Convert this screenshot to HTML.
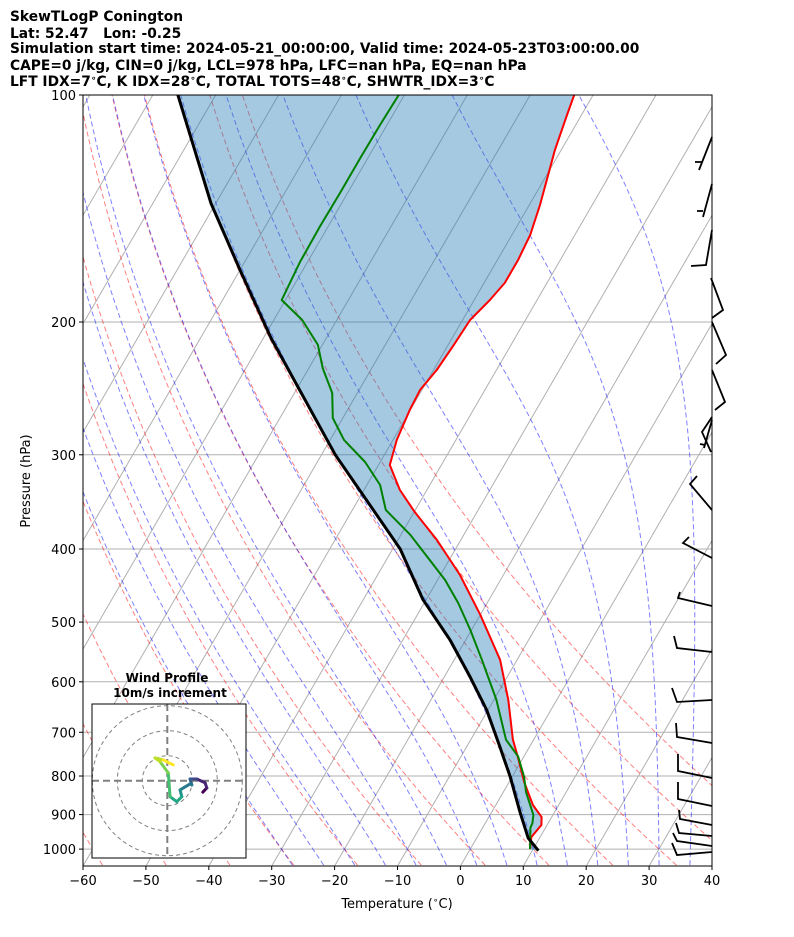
<!DOCTYPE html>
<html><head><meta charset="utf-8">
<style>
html,body{margin:0;padding:0;background:#fff;}
svg{display:block;font-family:"DejaVu Sans","Liberation Sans",sans-serif;}
</style></head>
<body>
<svg id="chart" width="794" height="937" viewBox="0 0 794 937" xmlns="http://www.w3.org/2000/svg">
<defs><clipPath id="plotclip"><rect x="83" y="95" width="629" height="771"/></clipPath>
<clipPath id="hodoclip"><rect x="92" y="704" width="154" height="154"/></clipPath></defs>
<g font-weight="bold" font-size="13.8" fill="#000" style="white-space:pre">
<text x="10" y="21">SkewTLogP Conington</text>
<text x="10" y="38" xml:space="preserve">Lat: 52.47   Lon: -0.25</text>
<text x="10" y="53">Simulation start time: 2024-05-21_00:00:00, Valid time: 2024-05-23T03:00:00.00</text>
<text x="10" y="70">CAPE=0 j/kg, CIN=0 j/kg, LCL=978 hPa, LFC=nan hPa, EQ=nan hPa</text>
<text x="10" y="86">LFT IDX=7<tspan font-size="9" dy="-5">∘</tspan><tspan dy="5">C, K IDX=28</tspan><tspan font-size="9" dy="-5">∘</tspan><tspan dy="5">C, TOTAL TOTS=48</tspan><tspan font-size="9" dy="-5">∘</tspan><tspan dy="5">C, SHWTR_IDX=3</tspan><tspan font-size="9" dy="-5">∘</tspan><tspan dy="5">C</tspan></text>
</g>
<g id="plot" clip-path="url(#plotclip)"></g>
<g id="barbs" stroke="#000" stroke-width="1.8" fill="none"></g>
<rect x="83" y="95" width="629" height="771" fill="none" stroke="#000" stroke-width="1"/>
<g id="axes"></g>
<text x="397" y="908" font-size="13" text-anchor="middle">Temperature (<tspan font-size="9" dy="-5">∘</tspan><tspan dy="5">C)</tspan></text>
<text transform="translate(30,481) rotate(-90)" font-size="13" text-anchor="middle">Pressure (hPa)</text>
<g id="hodo"></g>
</svg>
<script>
// ---- data ----
const tempP = [100,106.3,118.3,139.9,153.3,165.5,177.5,187,198.8,214.5,231.6,246.1,261.7,286.7,309.5,334,357.3,389,433,489,561,634,716,755,815,874,907,929,964,1000];
const tempT = [-53.0,-52.3,-51.0,-48.3,-47.1,-46.7,-46.7,-47.5,-48.8,-49.1,-49.5,-50.3,-50.1,-49.4,-48.2,-44.3,-39.9,-33.8,-26.9,-20.0,-12.7,-7.7,-3.3,-0.9,2.4,5.9,8.4,9.1,8.6,9.5];
const dewP = [100,109.6,121.2,134.9,149.2,166.5,187,198.8,214.5,230.2,248.4,268.1,286.7,306.7,329,355,383,413.7,439.7,471.7,512,561,634,716,754,802,840,901,924,937,1000];
const dewT = [-80.9,-81.1,-81.2,-81.2,-81.3,-81.2,-80.6,-75.5,-70.7,-67.8,-64.0,-61.6,-57.8,-52.4,-47.9,-44.7,-38.5,-33.1,-28.8,-24.6,-20.2,-15.6,-9.6,-4.4,-0.9,1.9,3.6,6.9,7.5,7.6,9.5];
const parcelP = [1005,967,895,802,732,654,591,528,467,400,300,210,170.6,139.1,100];
const parcelT = [11.0,8.2,4.6,-0.3,-4.7,-10.2,-15.9,-22.5,-30.5,-38.8,-57.8,-78.8,-90.0,-100.8,-116.0];
const xTicks = [-60,-50,-40,-30,-20,-10,0,10,20,30,40];
const yTicks = [100,200,300,400,500,600,700,800,900,1000];
const hodoU = [14.2,15.8,15.1,11.8,9.1,9.8,9.1,5.1,5.8,3.8,1.1,0.4,-2.9,-4.9,-1.6,2.4];
const hodoV = [-4.6,-2.9,-0.8,0.7,0.7,-1.7,-1.3,-3.7,-6.4,-8.4,-6.4,3.1,7.6,9.1,8.3,6.3];

// ---- axes ----
const X0=83,X1=712,Y0=95,Y1=866,PX=6.29,SK=0.58,LB=327.5;
function yP(p){return Y0+LB*Math.log(p/100);}
function xT(t,p){return X0+(t+60)*PX+SK*(Y1-yP(p));}
const NS="http://www.w3.org/2000/svg";
function mk(tag,attrs,parent){const e=document.createElementNS(NS,tag);for(const k in attrs)e.setAttribute(k,attrs[k]);parent.appendChild(e);return e;}
const plot=document.getElementById('plot');
const axes=document.getElementById('axes');
function pathFrom(ps,ts){return ps.map((p,i)=>(i?'L':'M')+xT(ts[i],p).toFixed(1)+','+yP(p).toFixed(1)).join('');}

// isotherms
const gIso=mk('g',{},plot);


for(let t=-180;t<=50;t+=10){
  mk('line',{x1:xT(t,1050),y1:yP(1050),x2:xT(t,100),y2:yP(100),stroke:'#b0b0b0','stroke-width':1},gIso);
}
// pressure grid
const gGrid=mk('g',{},plot);


yTicks.forEach(p=>{mk('line',{x1:X0,x2:X1,y1:yP(p),y2:yP(p),stroke:'#b0b0b0','stroke-width':1},gGrid);});

// dry adiabats
const gDry=mk('g',{},plot);


for(let th=213.15;th<=323.2;th+=10){
  let d='';
  for(let p=1050;p>=99;p-=10){const t=th*Math.pow(p/1000,0.2857)-273.15;d+=(d?'L':'M')+xT(t,p).toFixed(1)+','+yP(p).toFixed(1);}
  mk('path',{d:d,fill:'none',stroke:'rgba(255,0,0,0.5)','stroke-width':1,'stroke-dasharray':'5,3'},gDry);
}
// moist adiabats
function es(tc){return 6.112*Math.exp(17.67*tc/(tc+243.5));}
function dTdp(T,p){const tc=T-273.15;const e=es(tc);const rs=0.622*e/(p-e);const Rd=287,Cp=1005,Lv=2.501e6;
  return (Rd*T+Lv*rs)/(p*(Cp+Lv*Lv*rs*0.622/(Rd*T*T)));}
const gMoist=mk('g',{},plot);


for(let t0=-30;t0<=45;t0+=5){
  const pts=[];let T=t0+273.15;
  let Td=T;const down=[];
  for(let p=1000;p<1050;p+=5){const k=dTdp(Td,p);Td+=k*5;down.push([p+5,Td]);}
  down.reverse().forEach(a=>pts.push(a));
  pts.push([1000,T]);
  for(let p=1000;p>100;p-=5){const k1=dTdp(T,p);const k2=dTdp(T-k1*2.5,p-2.5);T-=k2*5;pts.push([p-5,T]);}
  let d='';pts.forEach(a=>{d+=(d?'L':'M')+xT(a[1]-273.15,a[0]).toFixed(1)+','+yP(a[0]).toFixed(1);});
  mk('path',{d:d,fill:'none',stroke:'rgba(0,0,255,0.5)','stroke-width':1,'stroke-dasharray':'5,3'},gMoist);
}
// fill between temperature and parcel
let fd=pathFrom(tempP,tempT);
for(let i=0;i<parcelP.length;i++){fd+='L'+xT(parcelT[i],parcelP[i]).toFixed(1)+','+yP(parcelP[i]).toFixed(1);}
const fill=mk('path',{d:fd+'Z',fill:'rgba(31,119,180,0.4)',stroke:'none'},plot);


const tl=mk('path',{d:pathFrom(tempP,tempT),fill:'none',stroke:'#ff0000','stroke-width':2,'stroke-linejoin':'round'},plot);


const dl=mk('path',{d:pathFrom(dewP,dewT),fill:'none',stroke:'#008000','stroke-width':2,'stroke-linejoin':'round'},plot);


const pl=mk('path',{d:pathFrom(parcelP,parcelT),fill:'none',stroke:'#000','stroke-width':3,'stroke-linejoin':'round'},plot);



// ticks
xTicks.forEach(t=>{
  const x=X0+(t+60)*PX;
  mk('line',{x1:x,x2:x,y1:Y1,y2:Y1+4,stroke:'#000'},axes);
  const tx=mk('text',{x:x,y:Y1+19,'font-size':13,'text-anchor':'middle'},axes);
  tx.textContent=(t<0?'\u2212'+(-t):t);
  
  
});
yTicks.forEach(p=>{
  const y=yP(p);
  mk('line',{x1:X0-4,x2:X0,y1:y,y2:y,stroke:'#000'},axes);
  const tx=mk('text',{x:X0-7,y:y+5,'font-size':13,'text-anchor':'end'},axes);
  tx.textContent=p;
  
  
});

// wind barbs (pixel polylines)
const barbs=[
 "M712,137L699,170M702,162L695,162","M712,184L703,217M703,211L697,211","M712,230L706,265L691,266",
 "M711,278L723,310L712,318","M712,322L726,355L716,364","M712,370L725,402L715,410",
 "M712,417L702,432L711,452M712,420L704,448M700,444L705,445","M697,476L690,484L712,510",
 "M712,558L683,543L689,537","M712,606L678,598L680,592","M712,652L677,648L674,636",
 "M712,700L677,702L672,688","M712,743L677,737L676,723","M712,778L678,771L678,754",
 "M712,806L678,799L678,782","M712,825L680,819L679,810","M712,836L679,833L676,823",
 "M712,846L677,841L673,833","M712,852L677,855L672,843"];
const gb=document.getElementById('barbs');
barbs.forEach(d=>{const b=mk('path',{d:d},gb);
  
  });

// hodograph
const hodo=document.getElementById('hodo');
const HC=[167.3,780.7],HS=2.5;
const ht=mk('text',{x:167,y:682,'font-size':12,'font-weight':'bold','text-anchor':'middle'},hodo);
ht.textContent='Wind Profile';


const ht2=mk('text',{x:170,y:697,'font-size':12,'font-weight':'bold','text-anchor':'middle'},hodo);
ht2.textContent='10m/s increment';


mk('rect',{x:92,y:704,width:154,height:154,fill:'#fff',stroke:'none'},hodo);
const hg=mk('g',{'clip-path':'url(#hodoclip)'},hodo);
[10,20,30].forEach(r=>{mk('circle',{cx:HC[0],cy:HC[1],r:r*HS,fill:'none',stroke:'#808080','stroke-width':1,'stroke-dasharray':'4,3'},hg);});
mk('line',{x1:92,x2:246,y1:HC[1],y2:HC[1],stroke:'#808080','stroke-width':2,'stroke-dasharray':'7,4'},hg);
mk('line',{x1:HC[0],x2:HC[0],y1:704,y2:858,stroke:'#808080','stroke-width':2,'stroke-dasharray':'7,4'},hg);
const vir=['#440154','#482475','#414487','#355f8d','#2a788e','#21918c','#22a884','#44bf70','#7ad151','#bddf26','#fde725'];
for(let i=0;i<hodoU.length-1;i++){
  const c=vir[Math.round(i/(hodoU.length-2)*(vir.length-1))];
  const s=mk('line',{x1:HC[0]+hodoU[i]*HS,y1:HC[1]-hodoV[i]*HS,x2:HC[0]+hodoU[i+1]*HS,y2:HC[1]-hodoV[i+1]*HS,stroke:c,'stroke-width':3,'stroke-linecap':'round'},hg);
  
  
}
mk('rect',{x:92,y:704,width:154,height:154,fill:'none',stroke:'#000','stroke-width':1},hodo);
</script>
</body></html>
